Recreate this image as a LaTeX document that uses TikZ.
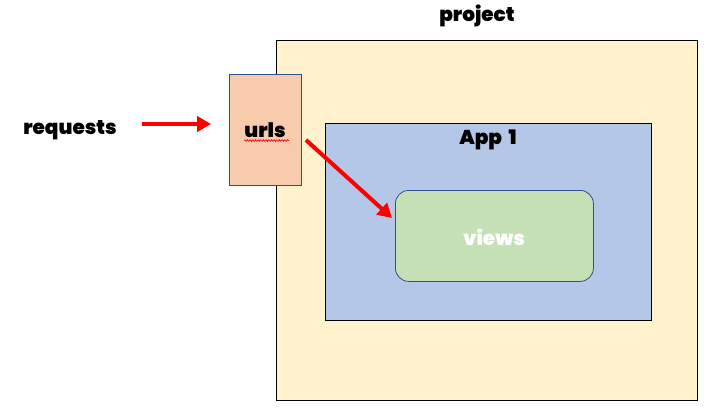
\documentclass[tikz,border=0pt]{standalone}
\usepackage{fontspec}
\setmainfont{Poppins}[BoldFont={Poppins Black}]
\usetikzlibrary{arrows.meta,decorations.pathmorphing}
\definecolor{projfill}{HTML}{FFF2CC}
\definecolor{urlfill}{HTML}{F8CBAD}
\definecolor{appfill}{HTML}{B4C7E7}
\definecolor{viewfill}{HTML}{C5E0B4}
\definecolor{blueline}{HTML}{2F528F}
\definecolor{arrred}{HTML}{FF0000}
\begin{document}
\begin{tikzpicture}[x=0.75pt,y=-0.75pt,
  lbl/.style={font=\bfseries\fontsize{15}{17}\selectfont, inner sep=0pt},
  box/.style={draw, line width=0.6pt, inner sep=0pt},
  redarrow/.style={draw=arrred, line width=3pt, -{Triangle[length=10.5pt,width=11.5pt]}}]
\useasboundingbox (0,0) rectangle (711,411);
% project
\node[box, draw=black, fill=projfill, minimum width=421*0.75pt, minimum height=360*0.75pt, anchor=north west] (project) at (276,40) {};
\node[lbl] (projlabel) at (477,16) {project};
% App 1
\node[box, draw=black, fill=appfill, minimum width=326*0.75pt, minimum height=197*0.75pt, anchor=north west] (app) at (325,123) {};
\node[lbl] (applabel) at (488,140) {App\hspace{5pt}1};
% views
\node[box, draw=blueline, fill=viewfill, rounded corners=10pt, minimum width=198*0.75pt, minimum height=91*0.75pt, anchor=north west] (views) at (395,190) {};
\node[lbl, text=white] (viewslabel) at (494,237) {views};
% urls
\node[box, draw=blueline, fill=urlfill, minimum width=72*0.75pt, minimum height=111*0.75pt, anchor=north west] (urls) at (229,74) {};
\node[lbl] (urlslabel) at (265,130) {urls};
\draw[arrred, line width=0.5pt, decorate, decoration={snake, amplitude=0.6pt, segment length=2pt}] (244,140.5) -- (289,140.5);
% requests
\node[lbl] (requests) at (70,130) {requests};
% arrows
\coordinate (a1s) at (142,124);
\coordinate (a2s) at (306,140);
\coordinate (a2e) at (392,218);
\draw[redarrow, shorten >=18*0.75pt] (a1s) -- (urls.west |- a1s);
\draw[redarrow] (a2s) -- (a2e);
\end{tikzpicture}
\end{document}
